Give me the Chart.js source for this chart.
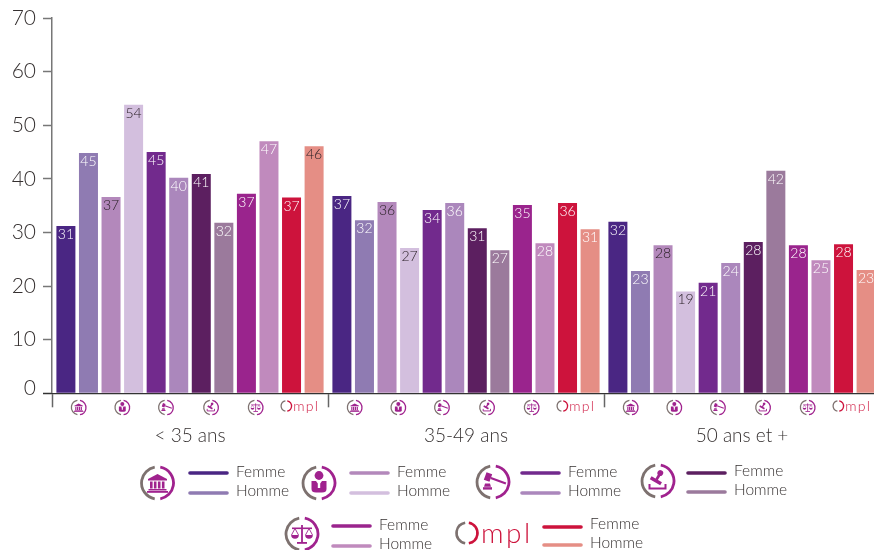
<!DOCTYPE html>
<html>
<head>
<meta charset="utf-8">
<title>Graphique</title>
<script src="https://cdn.jsdelivr.net/npm/chart.js@4/dist/chart.umd.min.js"></script>
<style>
html, body { margin: 0; padding: 0; background: #fff; overflow: hidden; width: 874px; height: 550px; }
canvas { display: block; }
</style>
</head>
<body>
<canvas id="graph" width="890" height="550"></canvas>
<script>
const categories = ['< 35 ans', '35-49 ans', '50 ans et +']
const yTicks = [0, 10, 20, 30, 40, 50, 60, 70]

const temple_f = [31.2, 36.8, 32]
const temple_h = [44.8, 32.3, 22.8]
const person_f = [36.6, 35.7, 27.6]
const person_h = [53.8, 27.1, 19]
const gavel_f = [45, 34.2, 20.6]
const gavel_h = [40.2, 35.5, 24.3]
const stamp_f = [40.9, 30.8, 28.2]
const stamp_h = [31.8, 26.7, 41.5]
const scales_f = [37.2, 35.1, 27.6]
const scales_h = [47, 28, 24.8]
const ompl_f = [36.5, 35.5, 27.8]
const ompl_h = [46.1, 30.6, 23]

const seriesValues = [temple_f, temple_h, person_f, person_h, gavel_f, gavel_h, stamp_f, stamp_h, scales_f, scales_h, ompl_f, ompl_h]
const seriesNames = ['Femme', 'Homme']
const seriesColors = ['#4a2683', '#8f7bb2', '#b388bb', '#d3bfde', '#722a8d', '#ab87bc', '#5c1f60', '#9b7a9c', '#9a248d', '#c08abd', '#cd133c', '#e58e85']

const LIGHT = '#ffffff'
const DARK = '#2a2026'
const labelColors = [
    [LIGHT, LIGHT, LIGHT], [LIGHT, LIGHT, LIGHT],
    [DARK, DARK, DARK], [DARK, DARK, DARK],
    [LIGHT, LIGHT, LIGHT], [LIGHT, LIGHT, LIGHT],
    [LIGHT, LIGHT, LIGHT], [LIGHT, LIGHT, LIGHT],
    [LIGHT, LIGHT, LIGHT], [LIGHT, LIGHT, LIGHT],
    [LIGHT, LIGHT, LIGHT], [DARK, LIGHT, LIGHT]
]

const FONT = 'Lato, sans-serif'
const GREY = '#7d716f'
const MAGENTA = '#a0228e'
const RED = '#cd133c'
const TEXT = '#353030'

// icones du bas, dessinees dans un repere de rayon 17.5
function ring(ctx) {
    ctx.lineWidth = 2.8
    ctx.strokeStyle = GREY
    ctx.beginPath()
    ctx.arc(0, 0, 16, 100 * Math.PI / 180, 260 * Math.PI / 180)
    ctx.stroke()
    ctx.strokeStyle = MAGENTA
    ctx.beginPath()
    ctx.arc(0, 0, 16, -80 * Math.PI / 180, 80 * Math.PI / 180)
    ctx.stroke()
}

function poly(ctx, pts) {
    ctx.beginPath()
    pts.forEach((p, i) => i ? ctx.lineTo(p[0], p[1]) : ctx.moveTo(p[0], p[1]))
    ctx.closePath()
    ctx.fill()
}

const glyphs = {
    temple(ctx) {
        poly(ctx, [[0, -9], [9.5, -4], [9.5, -2.6], [-9.5, -2.6], [-9.5, -4]])
        ;[-7.5, -3.6, 0.4, 4.4].forEach(x => ctx.fillRect(x, -1.5, 2.6, 7))
        ctx.fillRect(-9, 6, 18, 1.5)
        ctx.fillRect(-10.5, 8, 21, 1.8)
    },
    person(ctx) {
        ctx.beginPath()
        ctx.arc(0, -7.5, 4.4, 0, Math.PI * 2)
        ctx.fill()
        ctx.beginPath()
        ctx.moveTo(-7.5, -2)
        ctx.lineTo(7.5, -2)
        ctx.lineTo(7.5, 6)
        ctx.quadraticCurveTo(7.5, 9.5, 3, 9.5)
        ctx.lineTo(-3, 9.5)
        ctx.quadraticCurveTo(-7.5, 9.5, -7.5, 6)
        ctx.closePath()
        ctx.fill()
        ctx.fillStyle = '#fff'
        poly(ctx, [[-3, -2], [3, -2], [1.2, 0.5], [1.2, 5], [-1.2, 5], [-1.2, 0.5]])
    },
    gavel(ctx) {
        ctx.save()
        ctx.translate(-5, -5)
        ctx.rotate(20 * Math.PI / 180)
        ctx.fillRect(-3, -4, 6, 8)
        ctx.fillRect(3, -1.1, 16, 2.2)
        ctx.restore()
        poly(ctx, [[-8, 1.5], [-3, 1.5], [-2, 4.8], [-9, 4.8]])
        ctx.fillRect(-10, 5.2, 9, 2.4)
    },
    stamp(ctx) {
        ctx.save()
        ctx.translate(-2, -0.5)
        ctx.rotate(30 * Math.PI / 180)
        ctx.fillRect(-6, -1.5, 12, 3.5)
        ctx.fillRect(-1.4, -7, 2.8, 6)
        ctx.beginPath()
        ctx.arc(0, -8.6, 2.9, 0, Math.PI * 2)
        ctx.fill()
        ctx.restore()
        ctx.lineWidth = 2
        ctx.strokeStyle = MAGENTA
        ctx.beginPath()
        ctx.moveTo(-8.5, 3)
        ctx.lineTo(-8.5, 7.5)
        ctx.lineTo(7.5, 7.5)
        ctx.lineTo(7.5, 3)
        ctx.stroke()
    },
    scales(ctx) {
        ctx.fillRect(-0.9, -9, 1.8, 17)
        ctx.fillRect(-5, 8, 10, 1.8)
        ctx.fillRect(-10, -6.5, 20, 1.6)
        ;[-7, 7].forEach(x => {
            ctx.lineWidth = 0.9
            ctx.strokeStyle = MAGENTA
            ctx.beginPath()
            ctx.moveTo(x - 3.5, 1)
            ctx.lineTo(x, -5.5)
            ctx.lineTo(x + 3.5, 1)
            ctx.stroke()
            ctx.beginPath()
            ctx.arc(x, 1, 3.8, 0, Math.PI)
            ctx.closePath()
            ctx.fill()
        })
    }
}

function drawIcon(ctx, name, x, y, r) {
    ctx.save()
    ctx.translate(x, y)
    ctx.scale(r / 17.5, r / 17.5)
    ring(ctx)
    ctx.fillStyle = MAGENTA
    glyphs[name](ctx)
    ctx.restore()
}

// logo : x, y = centre du O
function drawOmpl(ctx, x, y, s) {
    ctx.save()
    ctx.translate(x, y)
    ctx.scale(s, s)
    ctx.lineWidth = 2.6
    ctx.strokeStyle = GREY
    ctx.beginPath()
    ctx.arc(0, 0, 10.5, 100 * Math.PI / 180, 260 * Math.PI / 180)
    ctx.stroke()
    ctx.strokeStyle = RED
    ctx.beginPath()
    ctx.arc(0, 0, 10.5, -80 * Math.PI / 180, 80 * Math.PI / 180)
    ctx.stroke()
    ctx.fillStyle = RED
    ctx.font = '300 28px ' + FONT
    ctx.letterSpacing = '2.5px'
    ctx.textAlign = 'left'
    ctx.textBaseline = 'alphabetic'
    ctx.fillText('mpl', 14, 10)
    ctx.restore()
}

const iconNames = ['temple', 'person', 'gavel', 'stamp', 'scales', 'ompl']
const iconNudge = [1.5, 0, -1.5, -1.5, -2, -3.5]

const legendBoxes = [
    { icon: 'temple', ix: 157.5, iy: 483, lx: 188, ly: [473, 493], tx: 236, ty: [472, 491], colors: [0, 1] },
    { icon: 'person', ix: 319, iy: 483, lx: 349, ly: [473, 493], tx: 397, ty: [472, 491], colors: [2, 3] },
    { icon: 'gavel', ix: 493, iy: 482, lx: 520, ly: [473, 493], tx: 568, ty: [472, 491], colors: [4, 5] },
    { icon: 'stamp', ix: 658, iy: 481, lx: 686, ly: [473, 492], tx: 734, ty: [471, 490], colors: [6, 7] },
    { icon: 'scales', ix: 302, iy: 534, lx: 331, ly: [526, 546], tx: 379, ty: [525, 544], colors: [8, 9] },
    { icon: 'ompl', ix: 467, iy: 533, lx: 542, ly: [527, 545], tx: 590, ty: [524, 543], colors: [10, 11] }
]

const barLabels = {
    id: 'barLabels',
    afterDatasetsDraw(chart) {
        const ctx = chart.ctx
        ctx.save()
        ctx.font = '300 14px ' + FONT
        ctx.textAlign = 'center'
        ctx.textBaseline = 'middle'
        chart.data.datasets.forEach((ds, i) => {
            chart.getDatasetMeta(i).data.forEach((bar, j) => {
                ctx.fillStyle = labelColors[i][j]
                ctx.fillText(Math.round(ds.data[j]), bar.x, bar.y + 8.5)
            })
        })
        ctx.restore()
    }
}

const bottomIcons = {
    id: 'bottomIcons',
    afterDraw(chart) {
        const ctx = chart.ctx
        categories.forEach((c, j) => {
            iconNames.forEach((name, k) => {
                const a = chart.getDatasetMeta(k * 2).data[j].x
                const b = chart.getDatasetMeta(k * 2 + 1).data[j].x
                const x = (a + b) / 2 + iconNudge[k]
                if (name === 'ompl') drawOmpl(ctx, x - 13, 406, 0.5)
                else drawIcon(ctx, name, x, 407.5, 8)
            })
        })
        legendBoxes.forEach(box => {
            if (box.icon === 'ompl') drawOmpl(ctx, box.ix, box.iy, 1)
            else drawIcon(ctx, box.icon, box.ix, box.iy, 17.5)
            ctx.save()
            ctx.lineWidth = 3.6
            ctx.lineCap = 'round'
            box.ly.forEach((y, n) => {
                ctx.strokeStyle = seriesColors[box.colors[n]]
                ctx.beginPath()
                ctx.moveTo(box.lx + 2, y)
                ctx.lineTo(box.lx + 39, y)
                ctx.stroke()
            })
            ctx.font = '300 15.5px ' + FONT
            ctx.fillStyle = TEXT
            ctx.textAlign = 'left'
            ctx.textBaseline = 'middle'
            seriesNames.forEach((s, n) => ctx.fillText(s, box.tx, box.ty[n]))
            ctx.restore()
        })
    }
}

Chart.defaults.font.family = FONT

const ctx = document.getElementById('graph').getContext('2d')
const myChart = new Chart(ctx, {
    type: 'bar',
    data: {
        labels: categories,
        datasets: seriesValues.map((v, i) => ({
            label: seriesNames[i % 2],
            data: v,
            backgroundColor: seriesColors[i],
            categoryPercentage: 0.981,
            barPercentage: 0.842
        }))
    },
    options: {
        responsive: false,
        animation: false,
        layout: { padding: { top: 18, right: 10, left: 0, bottom: 0 } },
        plugins: {
            legend: { display: false },
            tooltip: { enabled: false }
        },
        scales: {
            y: {
                min: 0,
                max: 70,
                afterFit: s => { s.width = 52 },
                afterBuildTicks: s => { s.ticks = yTicks.map(v => ({ value: v })) },
                border: { color: '#777', width: 1.5 },
                grid: {
                    drawOnChartArea: false,
                    tickLength: 9,
                    tickWidth: 1.5,
                    tickColor: c => c.tick && c.tick.value === 0 ? '#333' : '#777'
                },
                ticks: {
                    color: TEXT,
                    padding: 7,
                    font: { size: 21, weight: '300', lineHeight: 0.5 },
                    // le 0 est remonte par rapport a son trait
                    callback: v => v === 0 ? ['0', ''] : String(v)
                }
            },
            x: {
                afterFit: s => { s.height = 156.7 },
                border: { color: '#333', width: 1.2 },
                grid: {
                    offset: true,
                    drawOnChartArea: false,
                    tickLength: 14,
                    tickWidth: 1.5,
                    tickColor: '#666'
                },
                ticks: {
                    color: TEXT,
                    padding: 17,
                    maxRotation: 0,
                    font: { size: 19, weight: '300' }
                }
            }
        }
    },
    plugins: [barLabels, bottomIcons]
})
</script>
</body>
</html>
